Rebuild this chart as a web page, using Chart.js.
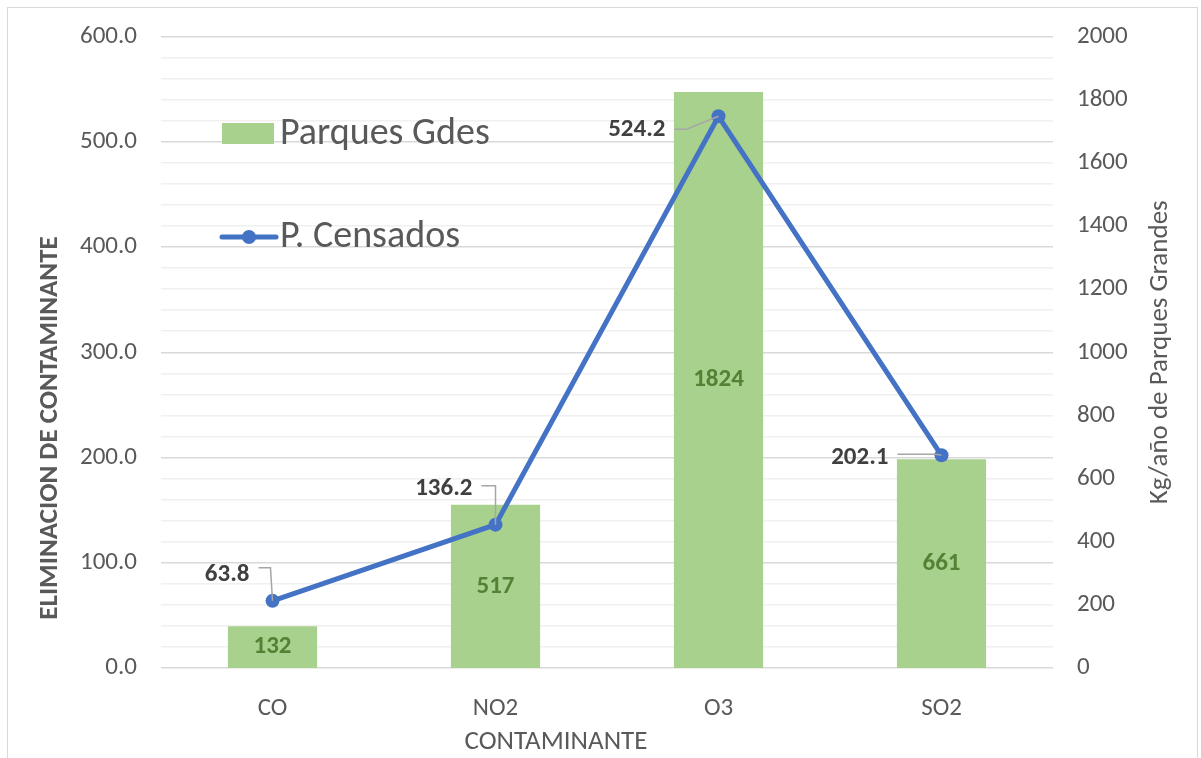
<!DOCTYPE html>
<html>
<head>
<meta charset="utf-8">
<script src="https://cdn.jsdelivr.net/npm/chart.js@4/dist/chart.umd.min.js"></script>
<style>
  html, body { margin: 0; padding: 0; background: #fff; }
  #wrap { position: relative; width: 1201px; height: 758px; }
  #frame { position: absolute; left: 7px; top: 7px; width: 1191px; height: 760px;
           border: 1px solid #d9d9d9; box-sizing: border-box; pointer-events: none; }
</style>
</head>
<body>
<div id="wrap">
  <canvas id="chart" width="1201" height="758"></canvas>
  <div id="frame"></div>
</div>
<script>
const FONT = "Carlito, Lato, 'Liberation Sans', sans-serif";

// data
const categories = ['CO', 'NO2', 'O3', 'SO2'];
const parquesGdes = [132, 517, 1824, 661];      // right axis, kg/año
const pCensados = [63.8, 136.2, 524.2, 202.1];  // left axis
const leftTicks = [0, 100, 200, 300, 400, 500, 600];
const rightTicks = [0, 200, 400, 600, 800, 1000, 1200, 1400, 1600, 1800, 2000];

// label placement for the line labels: [dx, dy] of text right edge, leader y, elbow x
const lineLabelPos = [
    { dx: -23, dy: -26, ly: -33, ex: -2 },
    { dx: -23, dy: -36, ly: -39, ex: 0 },
    { dx: -53, dy: 13, ly: 13, ex: -32 },
    { dx: -53, dy: 2, ly: -1, ex: -6 },
];

const labelPlugin = {
    id: 'labels',
    afterDatasetsDraw(chart) {
        const ctx = chart.ctx;
        ctx.save();
        // bar labels
        const barMeta = chart.getDatasetMeta(1);
        ctx.font = 'bold 25px ' + FONT;
        ctx.fillStyle = '#548235';
        ctx.textAlign = 'center';
        ctx.textBaseline = 'middle';
        barMeta.data.forEach((bar, i) => {
            const cy = (bar.y + bar.base) / 2;
            ctx.fillText(String(parquesGdes[i]), bar.x, cy);
        });
        // line labels with leader lines
        const lineMeta = chart.getDatasetMeta(0);
        lineMeta.data.forEach((pt, i) => {
            const p = lineLabelPos[i];
            const tx = pt.x + p.dx, ty = pt.y + p.dy;
            ctx.strokeStyle = '#a6a6a6';
            ctx.lineWidth = 1.5;
            ctx.beginPath();
            ctx.moveTo(tx + 9, pt.y + p.ly);
            ctx.lineTo(pt.x + p.ex, pt.y + p.ly);
            ctx.lineTo(pt.x, pt.y);
            ctx.stroke();
            ctx.fillStyle = '#404040';
            ctx.textAlign = 'right';
            ctx.font = 'bold 25px ' + FONT;
            ctx.fillText(pCensados[i].toFixed(1), tx, ty);
        });
        ctx.restore();
    },
    afterDraw(chart) {
        const ctx = chart.ctx;
        const area = chart.chartArea;
        ctx.save();
        // legend inside plot
        ctx.fillStyle = '#a9d18e';
        ctx.fillRect(222, 123, 52, 21);
        ctx.strokeStyle = '#4472c4';
        ctx.lineWidth = 5;
        ctx.lineCap = 'round';
        ctx.beginPath();
        ctx.moveTo(222, 237);
        ctx.lineTo(276, 237);
        ctx.stroke();
        ctx.fillStyle = '#4472c4';
        ctx.beginPath();
        ctx.arc(249, 237, 7, 0, Math.PI * 2);
        ctx.fill();
        ctx.fillStyle = '#595959';
        ctx.font = '38px ' + FONT;
        ctx.textAlign = 'left';
        ctx.textBaseline = 'middle';
        ctx.fillText('Parques Gdes', 280, 134);
        ctx.fillText('P. Censados', 280, 237);

        // axis titles
        ctx.textAlign = 'center';
        ctx.fillStyle = '#595959';
        ctx.font = '27px ' + FONT;
        ctx.fillText('CONTAMINANTE', 556, 742);

        ctx.save();
        ctx.translate(50, 428);
        ctx.rotate(-Math.PI / 2);
        ctx.font = 'bold 27px ' + FONT;
        ctx.fillText('ELIMINACION DE CONTAMINANTE', 0, 0);
        ctx.restore();

        ctx.save();
        ctx.translate(1160, (area.top + area.bottom) / 2);
        ctx.rotate(-Math.PI / 2);
        ctx.font = '27px ' + FONT;
        ctx.fillText('Kg/año de Parques Grandes', 0, 0);
        ctx.restore();
        ctx.restore();
    }
};

const config = {
    data: {
        labels: categories,
        datasets: [
            {
                type: 'line',
                label: 'P. Censados',
                data: pCensados,
                yAxisID: 'y',
                borderColor: '#4472c4',
                backgroundColor: '#4472c4',
                borderWidth: 5,
                pointRadius: 7,
                pointBorderWidth: 0,
                order: 0,
            },
            {
                type: 'bar',
                label: 'Parques Gdes',
                data: parquesGdes,
                yAxisID: 'y1',
                backgroundColor: '#a9d18e',
                barPercentage: 0.8,
                categoryPercentage: 0.5,
                order: 1,
            },
        ],
    },
    options: {
        responsive: false,
        animation: false,
        layout: { padding: { top: 36, bottom: 0, left: 0, right: 0 } },
        plugins: { legend: { display: false }, tooltip: { enabled: false } },
        scales: {
            x: {
                offset: true,
                grid: { display: false },
                border: { display: false },
                ticks: { color: '#595959', font: { family: FONT, size: 25 }, padding: 18 },
                afterFit(s) { s.height = 90; },
            },
            y: {
                position: 'left',
                min: leftTicks[0],
                max: leftTicks[leftTicks.length - 1],
                border: { display: false },
                grid: {
                    drawTicks: false,
                    lineWidth: 1.5,
                    color: (c) => (c.tick && c.tick.value % 100 === 0 ? '#d9d9d9' : '#f0f0f0'),
                },
                ticks: {
                    stepSize: 20,
                    autoSkip: false,
                    padding: 24,
                    color: '#595959',
                    font: { family: FONT, size: 25, lineHeight: 1 },
                    callback: (v) => (leftTicks.includes(v) ? v.toFixed(1) : ''),
                },
                afterFit(s) { s.width = 161; },
            },
            y1: {
                position: 'right',
                min: rightTicks[0],
                max: rightTicks[rightTicks.length - 1],
                border: { display: false },
                grid: { display: false, drawTicks: false },
                ticks: {
                    stepSize: 200,
                    padding: 24,
                    color: '#595959',
                    font: { family: FONT, size: 25, lineHeight: 1 },
                    callback: (v) => String(v),
                },
                afterFit(s) { s.width = 148; },
            },
        },
    },
    plugins: [labelPlugin],
};

const chart = new Chart(document.getElementById('chart'), config);
</script>
</body>
</html>
